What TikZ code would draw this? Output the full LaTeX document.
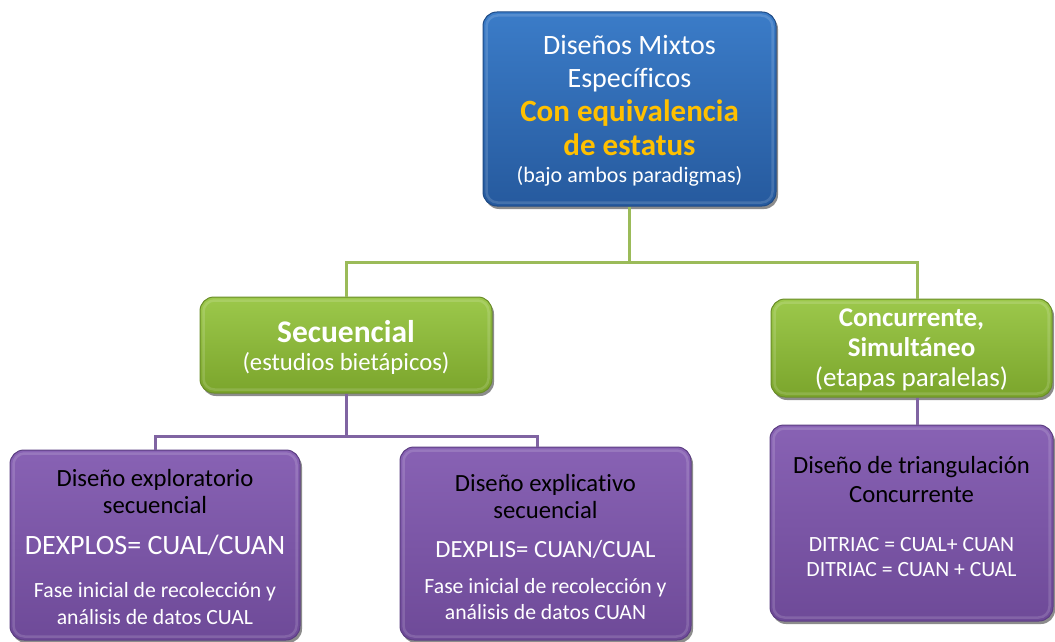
\documentclass[tikz,border=0pt]{standalone}
\usepackage{fontspec}
\setmainfont{Carlito}[Ligatures=NoCommon]
\usetikzlibrary{shadows}
\definecolor{blueA}{HTML}{3B7CC8}
\definecolor{blueB}{HTML}{265A9E}
\definecolor{blueE}{HTML}{1E4B86}
\definecolor{greenA}{HTML}{9CC84B}
\definecolor{greenB}{HTML}{7BA52C}
\definecolor{greenE}{HTML}{6A8D28}
\definecolor{purA}{HTML}{8862B4}
\definecolor{purB}{HTML}{6E4A98}
\definecolor{purE}{HTML}{5C3E82}
\definecolor{lineG}{HTML}{9BBB59}
\definecolor{lineP}{HTML}{8064A2}
\definecolor{yel}{HTML}{FFC000}
\newcommand\fsz[2]{\fontsize{#1}{#2}\selectfont}
\newcommand\yb{\fsz{31}{32}\bfseries\color{yel}}
\newcommand\fw{\fsz{21.7}{27}\color{white}}
\newcommand\fwb{\fsz{21.7}{26}\color{white}}
\newcommand\dw{\fsz{21.7}{25}\color{white}}
\begin{document}
\begin{tikzpicture}[x=1pt,y=-1pt,
  box/.style={rounded corners=14pt, line width=1pt, inner sep=0pt,
    drop shadow={shadow xshift=2pt,shadow yshift=-3pt,opacity=.45,fill=black}},
  bluebox/.style={box, draw=blueE, top color=blueA, bottom color=blueB},
  greenbox/.style={box, draw=greenE, top color=greenA, bottom color=greenB},
  purbox/.style={box, draw=purE, top color=purA, bottom color=purB},
  shine/.style={draw=white, draw opacity=.14, line width=2.5pt, rounded corners=11pt},
  txt/.style={align=center, inner sep=0pt},
  glink/.style={draw=lineG, line width=3pt},
  plink/.style={draw=lineP, line width=3pt}]
\useasboundingbox (0,0) rectangle (1055,642);

% boxes
\node[bluebox, minimum width=293pt, minimum height=194pt] (top) at (629.5,109) {};
\node[greenbox, minimum width=292pt, minimum height=96pt] (sec) at (346,345) {};
\node[greenbox, minimum width=281pt, minimum height=98pt] (con) at (911.5,348) {};
\node[purbox, minimum width=290pt, minimum height=190pt] (exa) at (155,545) {};
\node[purbox, minimum width=291pt, minimum height=193pt] (exb) at (545.5,543.5) {};
\node[purbox, minimum width=283pt, minimum height=196pt] (tri) at (911.5,523) {};

\foreach \b in {top,sec,con,exa,exb,tri}
  \draw[shine] ([xshift=4pt,yshift=-4pt]\b.north west) rectangle ([xshift=-4pt,yshift=4pt]\b.south east);

% texts
\node[txt, text=white, font=\fsz{28}{32}] (toptext) at ([yshift=-2pt]top.center)
  {Diseños Mixtos\\[1pt]Específicos\\[2pt]
   \yb Con equivalencia\\[2pt]\yb de estatus\\[-5pt]
   \fsz{22}{32}(bajo ambos paradigmas)};

\node[txt, text=white, font=\fsz{31.5}{29}] (sectext) at ([yshift=-2.5pt]sec.center)
  {\bfseries Secuencial\\[-1pt] \fsz{24.7}{29}(estudios bietápicos)};

\node[txt, text=white, font=\fsz{27}{30}] (context) at ([yshift=-2pt]con.center)
  {\bfseries Concurrente,\\\bfseries Simultáneo\\(etapas paralelas)};

\node[txt, text=black, font=\fsz{24.7}{27}] (exatext) at ([yshift=-2pt]exa.center)
  {Diseño exploratorio\\secuencial\\[14pt]
   \fsz{28}{27}\color{white}DEXPLOS= CUAL/CUAN\\[16pt]
   \fw Fase inicial de recolección y\\\fw análisis de datos CUAL};

\node[txt, text=black, font=\fsz{24.7}{26}] (exbtext) at ([yshift=-3pt]exb.center)
  {Diseño explicativo\\[1pt]secuencial\\[13pt]
   \color{white}DEXPLIS= CUAN/CUAL\\[10pt]
   \fwb Fase inicial de recolección y\\\fwb análisis de datos CUAN};

\node[txt, text=black, font=\fsz{24.7}{25}] (tritext) at ([yshift=6.5pt]tri.center)
  {Diseño de triangulación\\[4pt]Concurrente\\[24pt]
   \dw DITRIAC = CUAL+ CUAN\\\dw DITRIAC = CUAN + CUAL};

% connectors
\coordinate (j1) at (629.5,262);
\coordinate (j2) at (346,436);
\draw[glink] (top.south) -- (j1);
\draw[glink] (j1) -| (sec.north);
\draw[glink] (j1) -| ([xshift=5.5pt]con.north);
\draw[plink] (sec.south) -- (j2);
\draw[plink] (j2) -| (exa.north);
\draw[plink] (j2) -| ([xshift=-8.5pt]exb.north);
\draw[plink] ([xshift=5.5pt]con.south) -- ([xshift=5.5pt]tri.north);
\end{tikzpicture}
\end{document}
